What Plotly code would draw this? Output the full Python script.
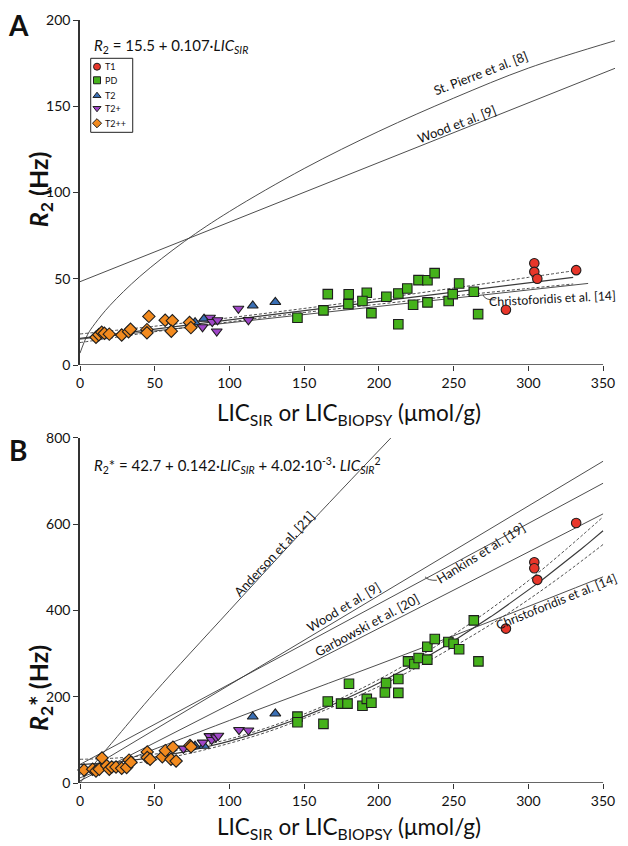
import plotly.graph_objects as go

# ---------------- Panel A data (R2 vs LIC) ----------------
t1_lic_a = [304, 304, 306, 332, 285]
t1_r2_a = [59, 54, 50, 55, 32]

pd_lic_a = [145.5, 162.9, 165.8, 179.8, 179.6, 191.9, 189.0, 195.0, 205.0, 213.0, 219.0,
            213.0, 222.9, 226.5, 232.5, 232.5, 237.3, 246.7, 249.4, 253.7, 263.5, 266.4]
pd_r2_a = [27.4, 31.7, 41.1, 41.0, 35.3, 41.9, 37.1, 30.1, 39.6, 41.5, 44.4,
           23.6, 34.9, 49.2, 49.1, 36.3, 53.3, 37.1, 41.1, 47.3, 42.5, 29.5]

t2_lic_a = [77, 83, 115.6, 130.7]
t2_r2_a = [24.7, 26.8, 34.4, 36.5]

t2p_lic_a = [82, 87, 88.5, 92, 91.5, 106, 112.7]
t2p_r2_a = [22, 27.5, 25, 26, 19.5, 32.7, 26.1]

t2pp_lic_a = [10.7, 12.6, 14.5, 16.3, 19.6, 27.9, 32.5, 33.8, 44.8, 44.8, 46.1, 57, 61.8, 61.1, 73.3, 74.2]
t2pp_r2_a = [16.1, 17.6, 19.0, 18.4, 17.9, 17.4, 19.3, 20.7, 20.5, 18.7, 28.2, 26.0, 25.7, 19.6, 24.7, 21.7]

# ---------------- Panel B data (R2* vs LIC) ----------------
t1_lic_b = [304, 304, 306, 332, 285]
t1_r2s_b = [512, 498, 471, 603, 358]

pd_lic_b = [145.5, 145.5, 162.9, 165.8, 174.7, 179.0, 180.0, 189.0, 191.9, 195.0, 204.0, 204.8,
            213.0, 213.0, 219.5, 223.7, 226.6, 232.4, 232.4, 237.4, 246.5, 250.0, 253.7, 263.5, 266.6]
pd_r2s_b = [154, 141, 137, 189, 184, 184, 230, 179, 195, 186, 210, 232,
            209, 241, 282, 276, 290, 286, 316, 334, 327, 323, 310, 377, 282]

t2_lic_b = [77, 83, 115.6, 130.7]
t2_r2s_b = [86, 86, 154, 161]

t2p_lic_b = [69.2, 82.1, 86.6, 88.1, 91.0, 92.6, 106.4, 112.7]
t2p_r2s_b = [80, 94, 109, 100, 106, 110, 123, 122]

t2pp_lic_b = [2.7, 8.5, 10.7, 12.9, 14.7, 17.9, 19.6, 21.2, 24.1, 27.9, 31.2, 32.8, 34.1,
              45, 45, 46.9, 55.1, 57.1, 62.2, 60.9, 64.3, 73.6, 74.3]
t2pp_r2s_b = [30, 32, 28, 32, 58, 40, 32, 37, 37, 34, 36, 53, 48,
              72, 59, 55, 61, 75, 83, 55, 51, 87, 84]

# ---------------- fits / literature curves ----------------
fit_a = [15.5, 0.107]              # R2 = a + b*LIC
fit_b = [42.7, 0.142, 4.02e-3]     # R2* = a + b*LIC + c*LIC^2

ci_x_a = [0, 50, 100, 150, 200, 250, 300, 330]
ci_up_a = [18.0, 22.5, 27.4, 32.8, 38.5, 44.6, 50.8, 54.6]
ci_lo_a = [13.0, 19.3, 25.0, 30.4, 35.3, 40.0, 44.4, 47.0]

stp_x = [0, 5, 10, 20, 40, 70, 100, 150, 200, 250, 300, 358]
stp_y = [6.9, 17.5, 24.0, 34.5, 51.3, 71.7, 89.0, 113.9, 135.5, 154.7, 172.1, 188.0]
wood_a_x = [0, 358]
wood_a_y = [48.3, 172.0]
chr_a_x = [0, 340]
chr_a_y = [15.0, 47.3]

ci_x_b = [0, 25, 50, 75, 100, 125, 150, 175, 200, 225, 250, 275, 300, 325, 350]
ci_up_b = [55, 58, 67, 82, 102, 128, 160, 197, 240, 289, 344, 404, 469, 541, 617]
ci_lo_b = [31, 40, 53, 70, 92, 118, 150, 185, 224, 267, 316, 368, 425, 487, 553]

and_x = [0, 10, 25, 50, 100, 150, 208]
and_y = [0, 46, 108, 210, 400, 588, 800]
wood_b_x = [0, 350]
wood_b_y = [20, 746]
hank_x = [0, 350]
hank_y = [43, 695]
garb_x = [0, 350]
garb_y = [5, 624]
chr_b_x = [0, 100, 234, 350]
chr_b_y = [12, 145, 320, 478]

FONT = "Lato"
LINE = "#3a3a3a"
EDGE = "#1e1e1e"

groups = [
    ("T1", "circle", "#e8362a"),
    ("PD", "square", "#45b21b"),
    ("T2", "triangle-up", "#3a6fb5"),
    ("T2+", "triangle-down", "#a046c8"),
    ("T2++", "diamond", "#f28a1e"),
]
data_a = [(t1_lic_a, t1_r2_a), (pd_lic_a, pd_r2_a), (t2_lic_a, t2_r2_a),
          (t2p_lic_a, t2p_r2_a), (t2pp_lic_a, t2pp_r2_a)]
data_b = [(t1_lic_b, t1_r2s_b), (pd_lic_b, pd_r2s_b), (t2_lic_b, t2_r2s_b),
          (t2p_lic_b, t2p_r2s_b), (t2pp_lic_b, t2pp_r2s_b)]

# legend layout (fractions of the plotting area)
leg_names = [g[0] for g in groups]
leg_y = [0.9388, 0.9210, 0.9008, 0.8843, 0.8647]

fig = go.Figure()


def add_line(x, y, xa, ya, dash="solid", width=0.9, shape="linear"):
    fig.add_trace(go.Scatter(x=x, y=y, mode="lines", xaxis=xa, yaxis=ya,
                             line=dict(color=LINE, width=width, dash=dash, shape=shape),
                             showlegend=False, hoverinfo="skip"))


# panel A lines
add_line(stp_x, stp_y, "x", "y", shape="spline")
add_line(wood_a_x, wood_a_y, "x", "y")
add_line(chr_a_x, chr_a_y, "x", "y")
fx_a = [0, 330]
add_line(fx_a, [fit_a[0] + fit_a[1] * v for v in fx_a], "x", "y", width=1.2)
add_line(ci_x_a, ci_up_a, "x", "y", dash="3px,2px", shape="spline")
add_line(ci_x_a, ci_lo_a, "x", "y", dash="3px,2px", shape="spline")

# panel B lines
add_line(and_x, and_y, "x2", "y2", shape="spline")
add_line(wood_b_x, wood_b_y, "x2", "y2")
add_line(hank_x, hank_y, "x2", "y2")
add_line(garb_x, garb_y, "x2", "y2")
add_line(chr_b_x, chr_b_y, "x2", "y2", shape="spline")
fx_b = list(range(0, 351, 5))
add_line(fx_b, [fit_b[0] + fit_b[1] * v + fit_b[2] * v * v for v in fx_b], "x2", "y2", width=1.2)
add_line(ci_x_b, ci_up_b, "x2", "y2", dash="3px,2px", shape="spline")
add_line(ci_x_b, ci_lo_b, "x2", "y2", dash="3px,2px", shape="spline")

for (name, sym, col), (xa, ya), (xb, yb), ly in zip(groups, data_a, data_b, leg_y):
    mk = dict(symbol=sym, color=col, size=9.5, line=dict(color=EDGE, width=1.1))
    fig.add_trace(go.Scatter(x=xa, y=ya, mode="markers", name=name, xaxis="x", yaxis="y",
                             marker=mk, cliponaxis=False, showlegend=False))
    fig.add_trace(go.Scatter(x=xb, y=yb, mode="markers", name=name, xaxis="x2", yaxis="y2",
                             marker=mk, cliponaxis=False, showlegend=False))
    # legend entry drawn on an invisible overlay axis
    fig.add_trace(go.Scatter(x=[0.0316], y=[ly], mode="markers", xaxis="x3", yaxis="y3",
                             marker=dict(symbol=sym, color=col, size=7, line=dict(color=EDGE, width=1)),
                             showlegend=False, hoverinfo="skip", cliponaxis=False))

ax_common = dict(ticks="outside", ticklen=5, tickwidth=1.3, tickcolor="#333",
                 showgrid=False, zeroline=False, automargin=False,
                 tickfont=dict(family=FONT, size=14, color="#111"))

xtitle = "LIC<sub>SIR</sub> or LIC<sub>BIOPSY</sub> (μmol/g)"
fig.update_layout(
    width=620, height=838,
    margin=dict(l=72, r=10, t=12, b=63),
    paper_bgcolor="white", plot_bgcolor="rgba(0,0,0,0)",
    font=dict(family=FONT, color="#111"),
    showlegend=False,
    xaxis=dict(domain=[0, 1], anchor="y", range=[0, 360], showline=False,
               tickvals=[0, 50, 100, 150, 200, 250, 300, 350],
               title=dict(text=xtitle, font=dict(size=22.5, family=FONT), standoff=15),
               **ax_common),
    yaxis=dict(domain=[0.5478, 1], anchor="x", range=[0, 200], showline=True,
               linecolor="#333", linewidth=1.5,
               tickvals=[0, 50, 100, 150, 200],
               **ax_common),
    xaxis2=dict(domain=[0, 1], anchor="y2", range=[0, 360], showline=False,
                tickvals=[0, 50, 100, 150, 200, 250, 300, 350],
                title=dict(text=xtitle, font=dict(size=22.5, family=FONT), standoff=11),
                **ax_common),
    yaxis2=dict(domain=[0, 0.4522], anchor="x2", range=[0, 800], showline=True,
                linecolor="#333", linewidth=1.5,
                tickvals=[0, 200, 400, 600, 800],
                **ax_common),
    xaxis3=dict(domain=[0, 1], anchor="y3", range=[0, 1], visible=False, fixedrange=True),
    yaxis3=dict(domain=[0, 1], anchor="x3", range=[0, 1], visible=False, fixedrange=True),
)

# x axis lines (0..350)
fig.add_shape(type="line", xref="x", yref="y", x0=0, x1=350, y0=0, y1=0,
              line=dict(color="#333", width=1.5))
fig.add_shape(type="line", xref="x2", yref="y2", x0=0, x1=350, y0=0, y1=0,
              line=dict(color="#333", width=1.5))

# legend box
fig.add_shape(type="rect", xref="paper", yref="paper", x0=0.0199, x1=0.098, y0=0.8528, y1=0.9498,
              line=dict(color="#222", width=1), fillcolor="rgba(0,0,0,0)", layer="below")

# leader hooks
fig.add_shape(type="path", xref="x", yref="y", path="M 269.7,40.6 Q 271,37.4 278,37.8",
              line=dict(color=LINE, width=0.9))
fig.add_shape(type="path", xref="x2", yref="y2", path="M 230.9,478 Q 233,469 238.8,470",
              line=dict(color=LINE, width=0.9))

ann = []
ann.append(dict(text="<b>A</b>", xref="paper", yref="paper", x=-0.115, y=1.019,
                xanchor="center", yanchor="top", showarrow=False, font=dict(size=28, family=FONT)))
ann.append(dict(text="<b>B</b>", xref="paper", yref="paper", x=-0.115, y=0.4613,
                xanchor="center", yanchor="top", showarrow=False, font=dict(size=28, family=FONT)))
ann.append(dict(text="<b><i>R</i><sub>2</sub> (Hz)</b>", xref="paper", yref="paper",
                x=-0.0743, y=0.777, textangle=-90, xanchor="center", yanchor="middle",
                showarrow=False, font=dict(size=25, family=FONT)))
ann.append(dict(text="<b><i>R</i><sub>2</sub>* (Hz)</b>", xref="paper", yref="paper",
                x=-0.0743, y=0.1245, textangle=-90, xanchor="center", yanchor="middle",
                showarrow=False, font=dict(size=25, family=FONT)))
ann.append(dict(text="<i>R</i><sub>2</sub> = 15.5 + 0.107·<i>LIC<sub>SIR</sub></i>",
                xref="paper", yref="paper", x=0.022, y=0.966, xanchor="left", yanchor="middle",
                showarrow=False, font=dict(size=15, family=FONT)))
ann.append(dict(text="<i>R</i><sub>2</sub>* = 42.7 + 0.142·<i>LIC<sub>SIR</sub></i> + 4.02·10<sup>-3</sup>· <i>LIC<sub>SIR</sub></i><sup>2</sup>",
                xref="paper", yref="paper", x=0.022, y=0.4155, xanchor="left", yanchor="middle",
                showarrow=False, font=dict(size=15, family=FONT)))
for nm, ly in zip(leg_names, leg_y):
    ann.append(dict(text=nm, xref="paper", yref="paper", x=0.0428, y=ly, xanchor="left",
                    yanchor="middle", showarrow=False, font=dict(size=9, family=FONT)))

labels = [
    ("St. Pierre et al. [8]", "x", "y", 268, 169, -21, 12.8),
    ("Wood et al. [9]", "x", "y", 252, 140, -21, 12.8),
    ("Christoforidis et al. [14]", "x", "y", 316.5, 38.8, -3, 12.3),
    ("Anderson et al. [21]", "x2", "y2", 129.7, 531, -47, 12.8),
    ("Wood et al. [9]", "x2", "y2", 176, 408, -31, 12.8),
    ("Garbowski et al. [20]", "x2", "y2", 192, 366, -28.5, 12.8),
    ("Hankins et al. [19]", "x2", "y2", 268, 533, -32, 12.8),
    ("Christoforidis et al. [14]", "x2", "y2", 319, 420, -22, 12.5),
]
for t, xr, yr, x, y, ang, fs in labels:
    ann.append(dict(text=t, xref=xr, yref=yr, x=x, y=y, textangle=ang, showarrow=False,
                    font=dict(size=fs, family=FONT, color="#111")))
fig.update_layout(annotations=ann)

fig.write_html("out.html")
